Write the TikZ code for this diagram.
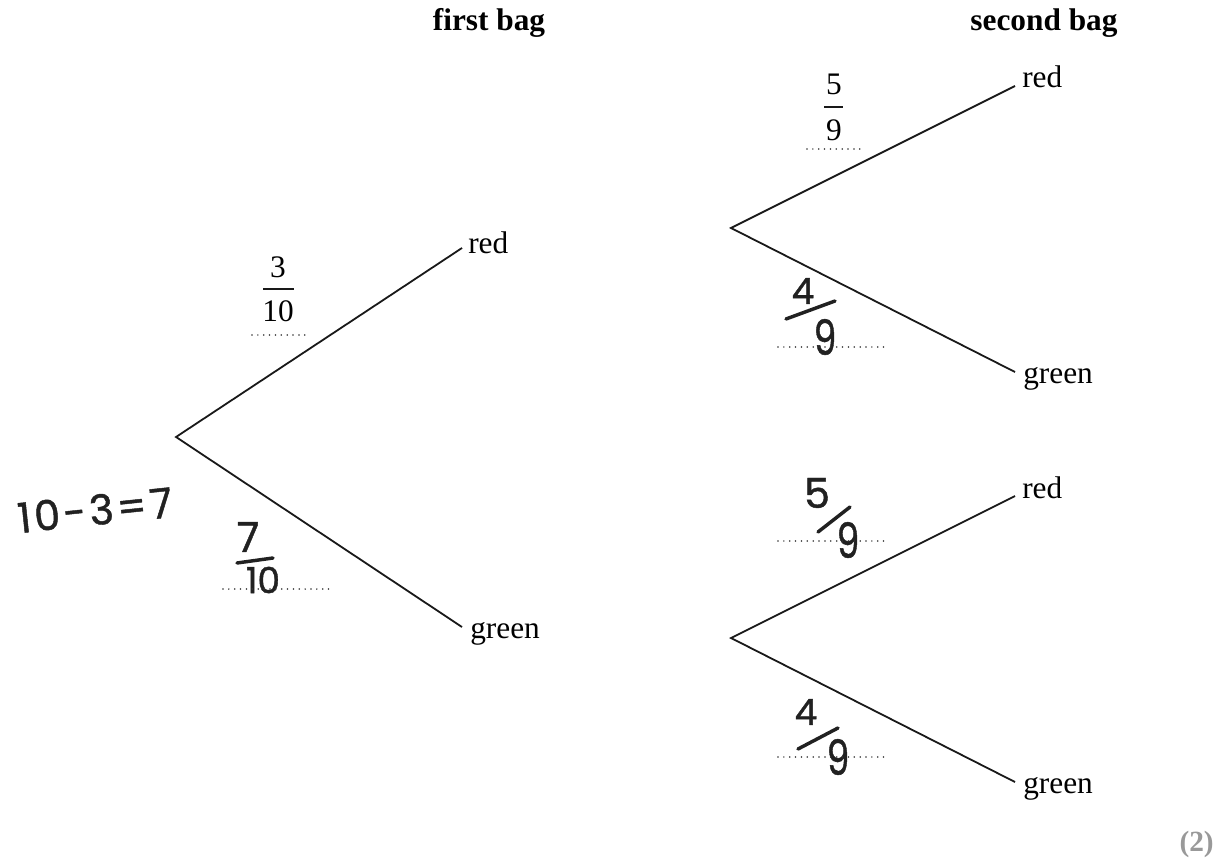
\documentclass[tikz,border=0pt]{standalone}
\usepackage{fontspec}
\setmainfont{Liberation Serif}
\newfontfamily\handfont[FakeBold=1.1]{Poppins}
\newfontfamily\handwide[FakeBold=1.1,LetterSpace=8]{Poppins}
\begin{document}
\begin{tikzpicture}[x=0.75pt,y=-0.75pt,
  branch/.style={line width=1.35pt, black!90},
  lbl/.style={font=\fontsize{23.5}{27}\selectfont, inner sep=0pt},
  head/.style={font=\fontsize{23.5}{27}\selectfont\bfseries, inner sep=0pt},
  dotline/.style={line width=1.3pt, line cap=round, dash pattern=on 0pt off 4.4pt, black!80},
  hand/.style={font=\handfont\fontsize{27}{30}\selectfont, inner sep=0pt, text=black!87},
  handstroke/.style={line width=2.6pt, black!87, line cap=round},
  fracbar/.style={line width=1.2pt, black!90},
  frac/.style={font=\fontsize{23.5}{27}\selectfont, inner sep=0pt}]
\useasboundingbox (0,0) rectangle (1221,863);

% headers
\node[head, anchor=base] (h1) at (489,31) {first bag};
\node[head, anchor=base] (h2) at (1044,31) {second bag};

% first bag tree
\coordinate (a) at (176,437);
\coordinate (ar) at (462,248);
\coordinate (ag) at (462,627);
\draw[branch] (ar) -- (a) -- (ag);
\node[lbl, anchor=base west] (arl) at (468,253) {red};
\node[lbl, anchor=base west] (agl) at (470,638) {green};

% second bag, upper tree
\coordinate (b) at (731,228);
\coordinate (br) at (1015,86);
\coordinate (bg) at (1015,372);
\draw[branch] (br) -- (b) -- (bg);
\node[lbl, anchor=base west] (brl) at (1022,88) {red};
\node[lbl, anchor=base west] (bgl) at (1023,383) {green};

% second bag, lower tree
\coordinate (c) at (731,638);
\coordinate (cr) at (1015,496);
\coordinate (cg) at (1015,782);
\draw[branch] (cr) -- (c) -- (cg);
\node[lbl, anchor=base west] (crl) at (1022,498) {red};
\node[lbl, anchor=base west] (cgl) at (1023,793) {green};

% typed fraction 3/10
\node[frac] (f3n) at (278,267) {3};
\draw[fracbar] (263,289) -- (294,289);
\node[frac] (f3d) at (278,311) {10};
\draw[dotline] (252,335) -- (305,335);

% typed fraction 5/9
\node[frac] (f5n) at (834,84) {5};
\draw[fracbar] (824,107) -- (843,107);
\node[frac] (f5d) at (834,130) {9};
\draw[dotline] (807,149) -- (860,149);

% handwritten working
\node[hand, rotate=6, font=\handwide\fontsize{31}{34}\selectfont] (calc) at (95,510) {10-3=7};

% handwritten 7/10
\node[hand, font=\handfont\fontsize{31}{34}\selectfont] (h7) at (248,537) {7};
\draw[handstroke] (237,563) -- (273,558);
\node[hand] (h10) at (263,580) {10};
\draw[dotline] (223,589) -- (332,589);

% handwritten 4/9 upper right
\node[hand] (u4) at (803,291) {4};
\draw[handstroke] (786,319) -- (835,301);
\node[hand, yscale=1.35] (u9) at (825,337) {9};
\draw[dotline] (778,347) -- (887,347);

% handwritten 5/9 lower right
\node[hand, font=\handfont\fontsize{31}{34}\selectfont] (l5) at (817,493) {5};
\draw[handstroke] (818,532) -- (850,507);
\node[hand, yscale=1.35] (l9) at (848,540) {9};
\draw[dotline] (778,541) -- (887,541);

% handwritten 4/9 lower right
\node[hand] (g4) at (806,712) {4};
\draw[handstroke] (798,749) -- (838,728);
\node[hand, yscale=1.35] (g9) at (838,757) {9};
\draw[dotline] (778,757) -- (887,757);

% marks
\node[font=\fontsize{22}{24}\selectfont\bfseries, text=black!40, inner sep=0pt, anchor=base east] (marks) at (1214,851) {(2)};
\end{tikzpicture}
\end{document}
